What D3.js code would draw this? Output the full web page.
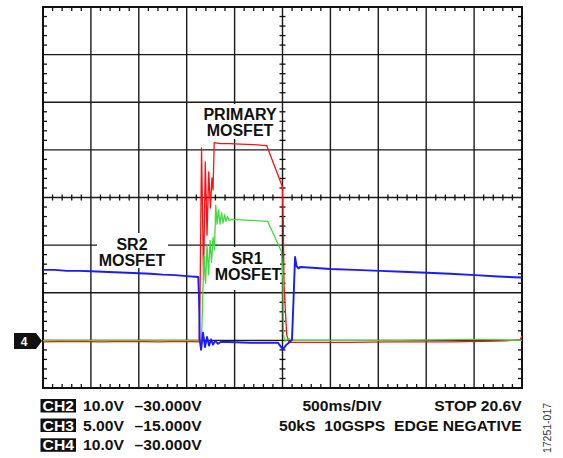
<!DOCTYPE html>
<html><head><meta charset="utf-8">
<script src="https://cdn.jsdelivr.net/npm/d3@7"></script>
<style>
html,body{margin:0;padding:0;background:#fff;}
svg{display:block;font-family:"Liberation Sans",Arial,Helvetica,sans-serif;}
</style></head>
<body><svg id="c" width="563" height="458"></svg>
<script>
// ---- DATA ----
// CH2 (red, primary MOSFET), 10 V/div, time in ms
const ch2Time  = [0,300,600,900,1200,1500,1629,1639,1655,1676,1694,1712,1730,1747,1764,1775,1787,1848,1950,2057,2200,2335,2500,2509,2516,2544,2568,2900,3205,3600,4000,4249,4600,4823,4980,5000];
const ch2Volts = [-0.3,-0.2,-0.3,-0.2,-0.3,-0.2,-0.3,8.5,40.4,12.7,37.5,22.1,35.4,27.8,34.1,31.6,41.5,41.3,41.3,41.2,41.1,40.9,32.2,23.1,11.6,1.1,-0.4,-0.4,-0.4,-0.3,-0.3,-0.3,-0.2,-0.1,0.1,0.9];
// CH3 (green, SR1 MOSFET), 5 V/div
const ch3Time  = [0,800,1629,1655,1666,1681,1697,1712,1728,1744,1759,1775,1790,1803,1817,1832,1848,1864,1879,1895,1910,1926,1942,1973,2161,2344,2490,2505,2510,2526,2568,2589,3727,4562,5000];
const ch3Volts = [0.0,0.0,0.0,0.0,4.2,8.9,6.0,10.0,6.9,10.5,8.2,10.8,9.5,14.2,12.2,13.7,12.2,13.4,12.3,13.2,12.5,13.0,12.6,12.7,12.6,12.5,9.3,6.3,0.6,-0.1,0.2,0.0,0.0,0.1,0.0];
// CH4 (blue, SR2 MOSFET), 10 V/div
const ch4Time  = [0,120,250,380,500,620,750,880,1000,1120,1250,1380,1500,1621,1629,1636,1650,1670,1691,1712,1733,1754,1775,1796,1827,1858,2161,2453,2503,2537,2578,2599,2615,2631,2647,2667,2683,2850,2996,3250,3518,3750,4009,4250,4510,4750,4990,5000];
const ch4Volts = [14.8,14.8,14.6,14.6,14.5,14.4,14.3,14.2,14.1,14.0,13.8,13.7,13.5,13.3,8.5,0.1,-2.0,1.6,-1.4,0.7,-1.1,0.2,-0.9,-0.1,-0.7,-0.3,-0.5,-0.5,-1.9,-1.0,-0.3,0.1,8.5,17.5,15.6,15.1,15.4,15.2,15.0,14.8,14.6,14.4,14.2,14.0,13.7,13.4,13.2,13.1];
const leftLabels  = [["CH2","10.0V","\u201330.000V"],["CH3","5.00V","\u201315.000V"],["CH4","10.0V","\u201330.000V"]];
const rightLabels = [["500ms/DIV","STOP 20.6V"],["50kS  10GSPS  EDGE NEGATIVE"]];

// ---- SCALES ----
const L=43,R=522,T=7,B=388;
const x = d3.scaleLinear().domain([0,5000]).range([L,R]);
const y10 = d3.scaleLinear().domain([-10,70]).range([B,T]);
const y5  = d3.scaleLinear().domain([-5,35]).range([B,T]);
const svg = d3.select("#c");

// grid
const g = svg.append("g");
const xMaj = d3.range(500,5000,500), yMaj = d3.range(0,70,10);
g.selectAll(".vx").data(xMaj).enter().append("line")
 .attr("x1",d=>x(d)).attr("x2",d=>x(d)).attr("y1",T).attr("y2",B)
 .attr("stroke","#1a1a1a").attr("stroke-width",1.4);
g.selectAll(".hy").data(yMaj).enter().append("line")
 .attr("y1",d=>y10(d)).attr("y2",d=>y10(d)).attr("x1",L).attr("x2",R)
 .attr("stroke","#1a1a1a").attr("stroke-width",1.4);
// minor ticks
const xMin = d3.range(100,5000,100).filter(d=>d%500!==0);
const yMin = d3.range(-8,70,2).filter(d=>d%10!==0);
const tk = (x1,y1,x2,y2)=>g.append("line").attr("x1",x1).attr("y1",y1).attr("x2",x2).attr("y2",y2).attr("stroke","#111").attr("stroke-width",1.3);
xMin.forEach(d=>{const px=x(d); tk(px,T,px,T+4); tk(px,B,px,B-4); tk(px,y10(30)-3,px,y10(30)+3);});
yMin.forEach(d=>{const py=y10(d); tk(L,py,L+4,py); tk(R,py,R-4,py); tk(x(2500)-3,py,x(2500)+3,py);});
// frame
g.append("rect").attr("x",L).attr("y",T).attr("width",R-L).attr("height",B-T)
 .attr("fill","none").attr("stroke","#111").attr("stroke-width",2);

// label backgrounds
const bgs=[[202,104,76,35],[97,233,71,35],[212,247,68,43]];
bgs.forEach(b=>svg.append("rect").attr("x",b[0]).attr("y",b[1]).attr("width",b[2]).attr("height",b[3]).attr("fill","#fff"));

// traces
function trace(ts,vs,ys,color,w){
  const line=d3.line().x(d=>x(d[0])).y(d=>ys(d[1]));
  svg.append("path").datum(ts.map((t,i)=>[t,vs[i]])).attr("d",line)
   .attr("fill","none").attr("stroke",color).attr("stroke-width",w).attr("stroke-linejoin","round");
}
trace(ch2Time,ch2Volts,y10,"#ff1010",1.3);
trace(ch3Time,ch3Volts,y5,"#3ddc3d",1.3);
trace(ch4Time,ch4Volts,y10,"#1a1aff",1.9);

// labels
const lab=(txt,cx,by)=>svg.append("text").attr("x",cx).attr("y",by).attr("text-anchor","middle")
 .attr("font-weight","bold").attr("font-size",16).attr("fill","#111").text(txt);
lab("PRIMARY",240,120); lab("MOSFET",240,136);
lab("SR2",132,250); lab("MOSFET",132,265.5);
lab("SR1",247,264); lab("MOSFET",248,280);

// marker 4
svg.append("path").attr("d","M14,333 L36,333 L42,341 L36,349 L14,349 Z").attr("fill","#111");
svg.append("text").attr("x",24).attr("y",345.5).attr("text-anchor","middle").attr("font-weight","bold")
 .attr("font-size",12).attr("fill","#fff").text("4");

// bottom text
const sx=1.12, fs=14;
const rowY=[411,430.5,450.3];
leftLabels.forEach((r,i)=>{
  svg.append("rect").attr("x",40.5).attr("y",rowY[i]-12).attr("width",35.5).attr("height",13.5).attr("fill","#111");
  svg.append("text").attr("transform",`translate(58.3,${rowY[i]}) scale(${sx},1)`).attr("text-anchor","middle")
   .attr("font-weight","bold").attr("font-size",fs).attr("fill","#fff").text(r[0]);
  svg.append("text").attr("transform",`translate(83,${rowY[i]}) scale(${sx},1)`)
   .attr("font-weight","bold").attr("font-size",fs).attr("fill","#111").text(r[1]);
  svg.append("text").attr("transform",`translate(201.7,${rowY[i]}) scale(${sx},1)`).attr("text-anchor","end")
   .attr("font-weight","bold").attr("font-size",fs).attr("fill","#111").text(r[2]);
});
const rt=(txt,xe,yb)=>svg.append("text").attr("transform",`translate(${xe},${yb}) scale(${sx},1)`).attr("text-anchor","end")
   .attr("font-weight","bold").attr("font-size",fs).attr("fill","#111").style("white-space","pre").text(txt);
rt(rightLabels[0][0],381.7,rowY[0]); rt(rightLabels[0][1],521.7,rowY[0]); rt(rightLabels[1][0],521.7,rowY[1]);
svg.append("text").attr("transform","translate(550.5,428) rotate(-90)").attr("text-anchor","middle")
 .attr("font-size",10.5).attr("fill","#333").text("17251-017");
</script></body></html>
